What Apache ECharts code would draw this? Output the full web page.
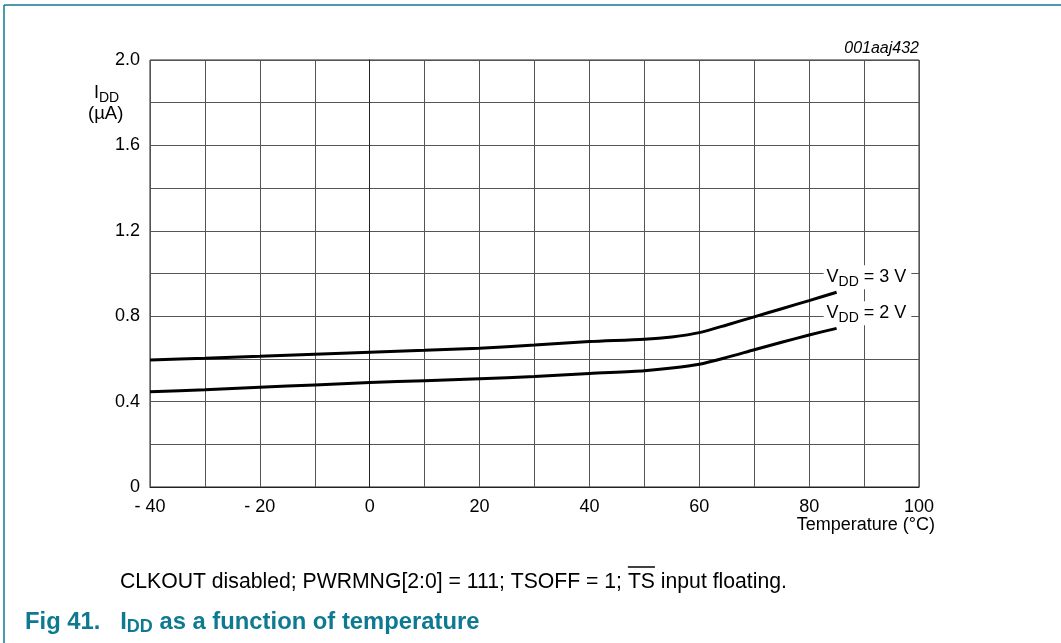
<!DOCTYPE html>
<html>
<head>
<meta charset="utf-8">
<script src="https://cdn.jsdelivr.net/npm/echarts@6/dist/echarts.min.js"></script>
<style>
  html, body { margin: 0; padding: 0; background: #fff; }
  #chart { width: 1061px; height: 643px; }
</style>
</head>
<body>
<div id="chart"></div>
<script>
const temps = [-40, -30, -20, -10, 0, 10, 20, 30, 40, 50, 55, 60, 65, 70, 75, 80, 85]
// IDD (µA)
const idd3V = [0.595, 0.603, 0.612, 0.622, 0.631, 0.640, 0.650, 0.665, 0.681, 0.692, 0.703, 0.723, 0.759, 0.797, 0.835, 0.873, 0.912]
const idd2V = [0.446, 0.456, 0.467, 0.478, 0.489, 0.498, 0.507, 0.517, 0.532, 0.545, 0.557, 0.575, 0.607, 0.643, 0.678, 0.712, 0.743]
const seriesLabels = ['3 V', '2 V']

const font = 'Arial, "Liberation Sans", Helvetica, sans-serif'
const teal = '#0e7a91'

// footnote: the TS part gets an overline, so measure where it lands
const notePre = 'CLKOUT disabled; PWRMNG[2:0] = 111; TSOFF = 1; '
const noteText = notePre + 'TS input floating.'
const noteSize = 21.2
const noteLeft = 120
const ctx = document.createElement('canvas').getContext('2d')
ctx.font = noteSize + 'px ' + font
const tsX = noteLeft + ctx.measureText(notePre).width
const tsW = ctx.measureText('TS').width

const chart = echarts.init(document.getElementById('chart'))

function pairs(ys) {
  return temps.map((t, i) => [t, ys[i]])
}

function curve(name, ys) {
  return {
    name: name,
    type: 'line',
    data: pairs(ys),
    smooth: 0.25,
    symbol: 'none',
    lineStyle: { color: '#000', width: 3 },
    animation: false,
    endLabel: {
      show: true,
      offset: [-21, -15],
      formatter: '{a|V}{s|DD}{a| = ' + name + '}',
      backgroundColor: '#fff',
      padding: [1, 5, 1, 3],
      rich: {
        a: { fontFamily: font, fontSize: 18, color: '#000', lineHeight: 22 },
        s: { fontFamily: font, fontSize: 14, color: '#000', lineHeight: 22, padding: [9, 0, 0, 0] }
      }
    }
  }
}

chart.setOption({
  backgroundColor: '#fff',
  animation: false,
  grid: {
    left: 150,
    right: 142,
    top: 60,
    bottom: 156,
    show: true,
    borderColor: '#222',
    borderWidth: 1
  },
  xAxis: {
    type: 'value',
    min: -40,
    max: 100,
    interval: 10,
    axisLine: { show: true, lineStyle: { color: '#222' } },
    axisTick: { show: false },
    splitLine: { show: true, lineStyle: { color: '#555', width: 1 } },
    axisLabel: {
      margin: 11,
      fontFamily: font,
      fontSize: 18,
      color: '#000',
      formatter: v => (v % 20 !== 0 ? '' : v < 0 ? '- ' + Math.abs(v) : String(v))
    }
  },
  yAxis: {
    type: 'value',
    min: 0,
    max: 2.0,
    interval: 0.2,
    axisLine: { show: true, lineStyle: { color: '#222' } },
    axisTick: { show: false },
    splitLine: { show: true, lineStyle: { color: '#555', width: 1 } },
    axisLabel: {
      margin: 10,
      fontFamily: font,
      fontSize: 18,
      color: '#000',
      formatter: v => {
        const r = Math.round(v * 10)
        if (r % 4 !== 0) return ''
        return r === 0 ? '0' : (r / 10).toFixed(1)
      }
    }
  },
  series: [curve(seriesLabels[0], idd3V), curve(seriesLabels[1], idd2V)],
  graphic: [
    // page frame
    { type: 'line', shape: { x1: 4, y1: 5, x2: 1061, y2: 5 }, style: { stroke: teal, lineWidth: 1.5 } },
    { type: 'line', shape: { x1: 4, y1: 5, x2: 4, y2: 643 }, style: { stroke: teal, lineWidth: 1.5 } },
    // y axis title
    {
      type: 'text', left: 94, top: 82,
      style: {
        text: '{a|I}{s|DD}',
        rich: {
          a: { fontFamily: font, fontSize: 18, fill: '#000', lineHeight: 22 },
          s: { fontFamily: font, fontSize: 14, fill: '#000', lineHeight: 22, padding: [9, 0, 0, 0] }
        }
      }
    },
    { type: 'text', left: 88, top: 104, style: { text: '(µA)', fontFamily: font, fontSize: 18.5, fill: '#000' } },
    // figure code
    { type: 'text', right: 142, top: 41, style: { text: '001aaj432', fontFamily: font, fontSize: 16, fontStyle: 'italic', fill: '#000' } },
    // x axis title
    { type: 'text', right: 126, top: 516, style: { text: 'Temperature (°C)', fontFamily: font, fontSize: 18, fill: '#000' } },
    // condition note
    {
      type: 'text', left: noteLeft, top: 572,
      style: { text: noteText, fontFamily: font, fontSize: noteSize, fill: '#000' }
    },
    { type: 'line', shape: { x1: tsX, y1: 567, x2: tsX + tsW, y2: 567 }, style: { stroke: '#000', lineWidth: 1.5 } },
    // caption
    {
      type: 'text', left: 25, top: 608,
      style: {
        text: '{b|Fig 41.   I}{s|DD}{b| as a function of temperature}',
        rich: {
          b: { fontFamily: font, fontSize: 23.8, fontWeight: 'bold', fill: teal, lineHeight: 28 },
          s: { fontFamily: font, fontSize: 18, fontWeight: 'bold', fill: teal, lineHeight: 28, padding: [10, 0, 0, 0] }
        }
      }
    }
  ]
})
</script>
</body>
</html>
